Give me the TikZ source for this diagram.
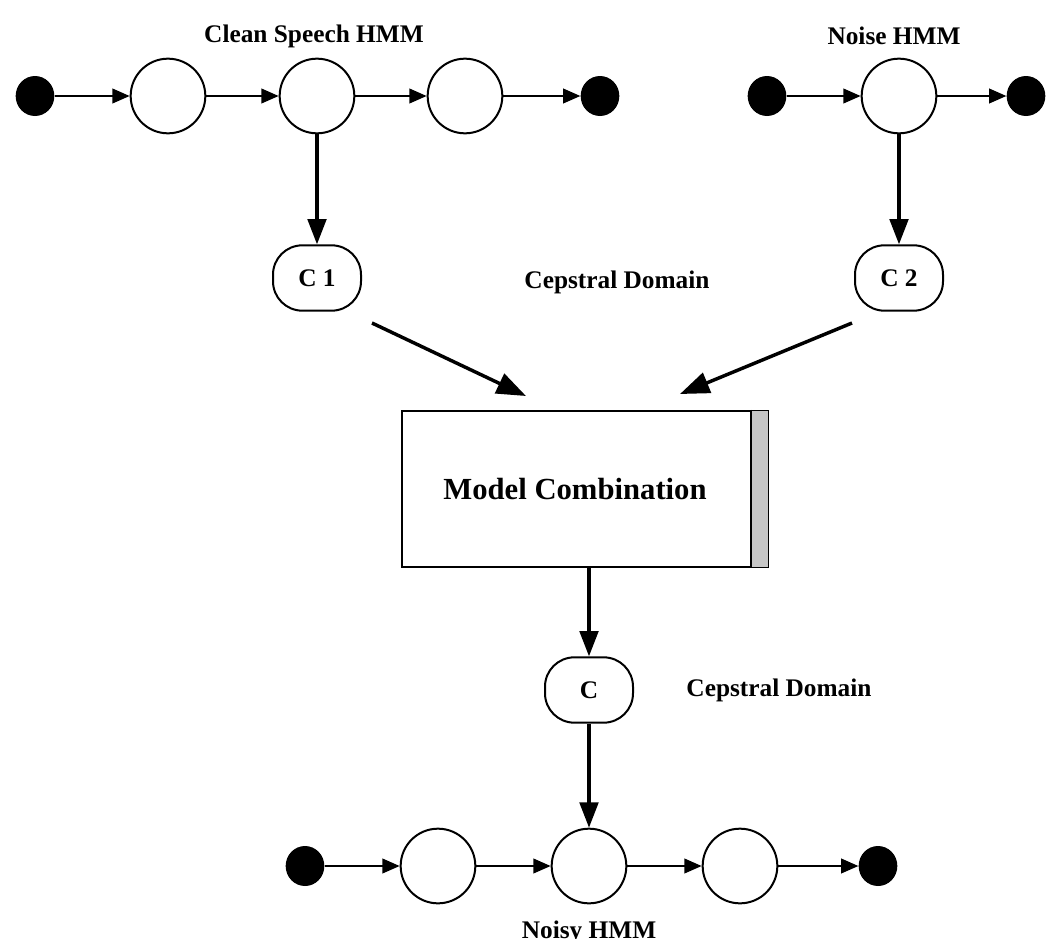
\documentclass[tikz,border=0pt]{standalone}
\usepackage{fontspec}
\setmainfont{Liberation Serif}
\usetikzlibrary{arrows.meta,shapes.geometric}
\begin{document}
\begin{tikzpicture}[x=0.75pt,y=-0.75pt,
    font=\bfseries\fontsize{19}{22}\selectfont,
    state/.style={draw,ellipse,line width=1.5pt,minimum width=56pt,minimum height=56pt,inner sep=0pt},
    dot/.style={ellipse,fill=black,minimum width=29pt,minimum height=30pt,inner sep=0pt},
    cnode/.style={draw,rounded corners=22pt,line width=1.5pt,minimum width=66pt,minimum height=49pt,inner sep=0pt},
    hop/.style={-{Triangle[length=13pt,width=11pt]},line width=1.5pt},
    feed/.style={-{Triangle[length=19pt,width=14pt]},line width=2.4pt},
    merge/.style={-{Triangle[length=22pt,width=16pt]},line width=2.6pt}]
  \useasboundingbox (0,0) rectangle (1050,939);
  % clean speech HMM
  \node[dot] (s0) at (35,96) {};
  \foreach \i/\x in {1/168, 2/317, 3/465}{
    \node[state] (s\i) at (\x,96) {};
  }
  \node[dot] (s4) at (600,96) {};
  \foreach \i in {0,...,3}{
    \pgfmathtruncatemacro{\next}{\i+1}
    \draw[hop] (s\i) -- (s\next);
  }
  \node (cleanlabel) at (314,36) {Clean Speech HMM};
  % noise HMM
  \node[dot] (n0) at (767,96) {};
  \node[state] (n1) at (899,96) {};
  \node[dot] (n2) at (1026,96) {};
  \draw[hop] (n0) -- (n1);
  \draw[hop] (n1) -- (n2);
  \node (noiselabel) at (894,36) {Noise HMM};
  % cepstral parameters
  \node[cnode] (c1) at (317,278) {C 1};
  \node[cnode] (c2) at (899,278) {C 2};
  \draw[feed] (s2) -- (c1);
  \draw[feed] (n1) -- (c2);
  \node (domaintop) at (617,282) {Cepstral Domain};
  % model combination
  \node[draw,line width=1.6pt,minimum width=275pt,minimum height=117pt,inner sep=0pt] (combo) at (585,489) {};
  \fill[gray!45] ([xshift=-14pt,yshift=-0.8pt]combo.north east) rectangle ([xshift=-0.8pt,yshift=0.8pt]combo.south east);
  \draw[line width=1.2pt] ([xshift=-14pt]combo.north east) -- ([xshift=-14pt]combo.south east);
  \node[font=\bfseries\fontsize{23}{26}\selectfont] (combolabel) at (575,489) {Model Combination};
  \coordinate (m1) at (372,323);
  \coordinate (m1end) at (526,396);
  \coordinate (m2) at (852,323);
  \coordinate (m2end) at (680,394);
  \draw[merge] (m1) -- (m1end);
  \draw[merge] (m2) -- (m2end);
  % noisy HMM
  \node[cnode] (cc) at (589,690) {C};
  \node (domainbot) at (779,690) {Cepstral Domain};
  \draw[feed] (combo.south -| cc) -- (cc);
  \node[dot] (y0) at (305,866) {};
  \foreach \i/\x in {1/438, 2/589, 3/740}{
    \node[state] (y\i) at (\x,866) {};
  }
  \node[dot] (y4) at (878,866) {};
  \foreach \i in {0,...,3}{
    \pgfmathtruncatemacro{\next}{\i+1}
    \draw[hop] (y\i) -- (y\next);
  }
  \draw[feed] (cc) -- (y2);
  \node (noisylabel) at (589,932) {Noisy HMM};
\end{tikzpicture}
\end{document}
